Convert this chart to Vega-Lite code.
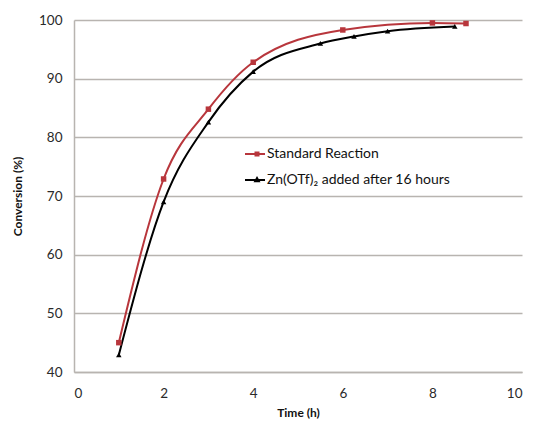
{
  "$schema": "https://vega.github.io/schema/vega-lite/v6.json",
  "autosize": "none",
  "width": 448,
  "height": 352,
  "padding": {"left": 74, "top": 20, "right": 11, "bottom": 61},
  "background": "white",
  "config": {
    "view": {"stroke": null},
    "font": "Lato",
    "axis": {"labelFont": "Lato", "titleFont": "Lato", "labelColor": "#2a2a2a", "titleColor": "#111111", "gridColor": "#b8b4b0", "gridWidth": 1.5, "domainColor": "#b8b4b0", "domainWidth": 1.5, "ticks": false, "labelFontSize": 13.5, "titleFontSize": 12, "titleFontWeight": "bold"}
  },
  "data": {"values": [
    {"series": "Standard Reaction", "time": 1, "conversion": 45.0},
    {"series": "Standard Reaction", "time": 2, "conversion": 72.9},
    {"series": "Standard Reaction", "time": 3, "conversion": 84.8},
    {"series": "Standard Reaction", "time": 4, "conversion": 92.8},
    {"series": "Standard Reaction", "time": 6, "conversion": 98.3},
    {"series": "Standard Reaction", "time": 8, "conversion": 99.5},
    {"series": "Standard Reaction", "time": 8.75, "conversion": 99.4},
    {"series": "Zn(OTf)₂ added after 16 hours", "time": 1, "conversion": 42.9},
    {"series": "Zn(OTf)₂ added after 16 hours", "time": 2, "conversion": 69.0},
    {"series": "Zn(OTf)₂ added after 16 hours", "time": 3, "conversion": 82.6},
    {"series": "Zn(OTf)₂ added after 16 hours", "time": 4, "conversion": 91.2},
    {"series": "Zn(OTf)₂ added after 16 hours", "time": 5.5, "conversion": 96.0},
    {"series": "Zn(OTf)₂ added after 16 hours", "time": 6.25, "conversion": 97.2},
    {"series": "Zn(OTf)₂ added after 16 hours", "time": 7, "conversion": 98.1},
    {"series": "Zn(OTf)₂ added after 16 hours", "time": 8.5, "conversion": 98.9}
  ]},
  "encoding": {
    "x": {"field": "time", "type": "quantitative", "title": "Time (h)", "scale": {"domain": [0, 10], "nice": false}, "axis": {"values": [0, 2, 4, 6, 8, 10], "grid": false, "labelPadding": 14, "titlePadding": 8}},
    "y": {"field": "conversion", "type": "quantitative", "title": "Conversion (%)", "scale": {"domain": [40, 100], "nice": false, "zero": false}, "axis": {"values": [40, 50, 60, 70, 80, 90, 100], "labelPadding": 12, "titlePadding": 14}}
  },
  "layer": [
    {
      "mark": {"type": "line", "interpolate": "monotone", "strokeWidth": 2},
      "encoding": {
        "color": {"field": "series", "type": "nominal", "scale": {"domain": ["Standard Reaction", "Zn(OTf)₂ added after 16 hours"], "range": ["#b8363c", "#000000"]},
          "legend": {"title": null, "orient": "none", "legendX": 170, "legendY": 123, "labelFont": "Lato", "labelFontSize": 14, "labelColor": "#111111", "labelLimit": 400, "symbolSize": 400, "symbolStrokeWidth": 2, "rowPadding": 8, "labelOffset": 1,
            "encode": {"symbols": {"update": {
              "shape": {"signal": "datum.value === 'Standard Reaction' ? 'M-1,0H1M0.05,-0.15H0.35V0.15H0.05Z' : 'M-1,0H1M0.2,-0.2L0.38,0.13H0.02Z'"},
              "fill": {"signal": "datum.value === 'Standard Reaction' ? '#b8363c' : '#000000'"}
            }}}}}
      }
    },
    {
      "transform": [{"filter": "datum.series === 'Standard Reaction'"}],
      "mark": {"type": "point", "filled": true, "size": 30, "opacity": 1, "shape": "square", "color": "#b8363c"}
    },
    {
      "transform": [{"filter": "datum.series !== 'Standard Reaction'"}],
      "mark": {"type": "point", "filled": true, "size": 30, "opacity": 1, "shape": "triangle-up", "color": "#000000"}
    }
  ]
}
